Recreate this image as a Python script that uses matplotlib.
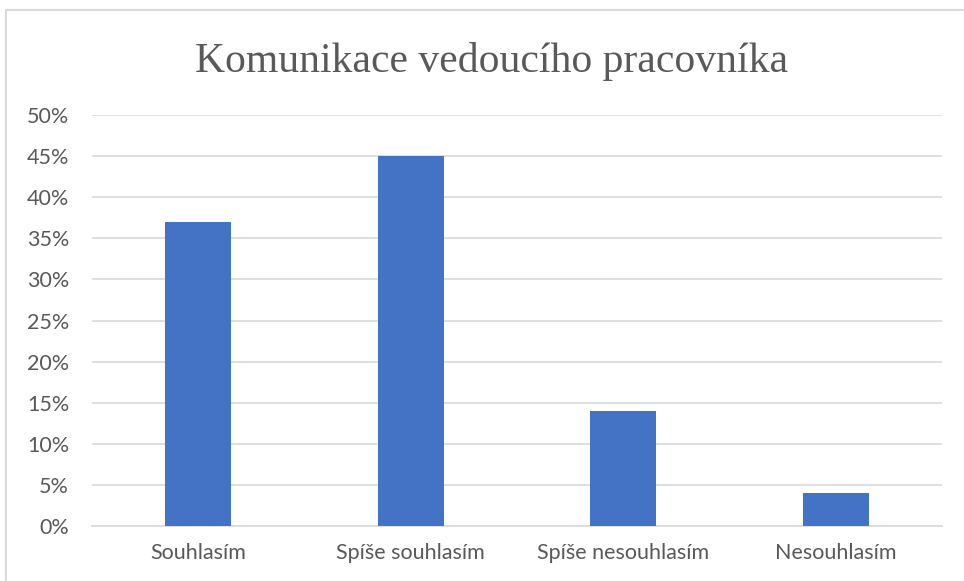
import matplotlib.pyplot as plt
from matplotlib.patches import Rectangle
import numpy as np

categories = ['Souhlasím', 'Spíše souhlasím', 'Spíše nesouhlasím', 'Nesouhlasím']
values = [37, 45, 14, 4]
yticks = [0, 5, 10, 15, 20, 25, 30, 35, 40, 45, 50]

grey = '#595959'

fig = plt.figure(figsize=(9.64, 5.81), dpi=100)
ax = fig.add_axes([0.0954, 0.0947, 0.8816, 0.7073])

x = np.arange(len(categories))
ax.bar(x, values, width=0.31, color='#4472C4', zorder=3)

ax.set_xlim(-0.5, len(categories) - 0.5)
ax.set_ylim(0, 50)
ax.set_yticks(yticks)
ax.set_yticklabels(['%d%%' % v for v in yticks])
ax.set_xticks(x)
ax.set_xticklabels(categories)
ax.grid(axis='y', color='#D9D9D9', linewidth=1.2, zorder=0)
ax.tick_params(length=0, labelsize=15.5, colors=grey, labelfontfamily='Lato')
ax.tick_params(axis='x', pad=12)
ax.tick_params(axis='y', pad=16.5)
for side in ['top', 'right', 'left']:
    ax.spines[side].set_visible(False)
ax.spines['bottom'].set_color('#D9D9D9')
ax.spines['bottom'].set_linewidth(1.2)

fig.text(0.51, 0.895, 'Komunikace vedoucího pracovníka', ha='center', va='center',
         fontsize=30, color=grey, family='Liberation Serif')

# chart border
fig.patches.append(Rectangle((6 / 964, -0.01), 1.0, 1 - 10 / 581 + 0.01,
                             transform=fig.transFigure, fill=False,
                             edgecolor='#D9D9D9', linewidth=1.5))

fig.savefig('out.png', dpi=100)
